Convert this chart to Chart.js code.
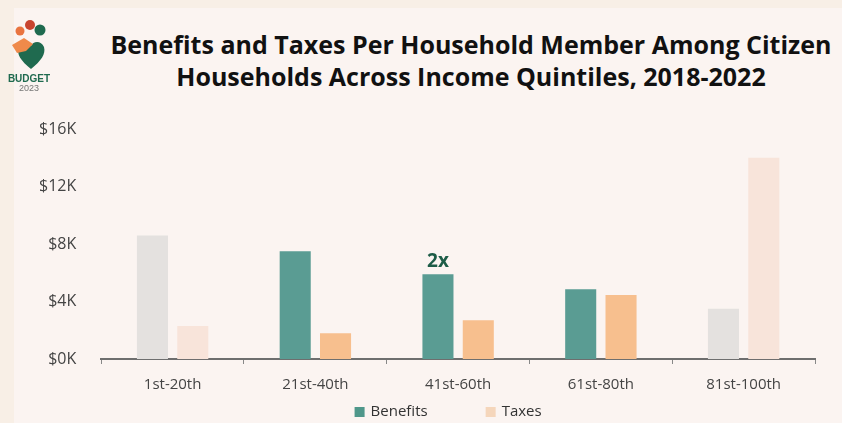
<!DOCTYPE html>
<html>
<head>
<meta charset="utf-8">
<script src="https://cdn.jsdelivr.net/npm/chart.js@4.4.0/dist/chart.umd.min.js"></script>
<style>
  html, body { margin: 0; padding: 0; }
  body { width: 842px; height: 423px; background: #f8efe6; position: relative; overflow: hidden; }
  #panel { position: absolute; left: 14px; top: 8px; right: 0; bottom: 0; background: #fbf4f1; }
  #title { position: absolute; left: 100px; width: 742px; top: 28px; text-align: center;
    font-family: "Open Sans", sans-serif; font-weight: 700; font-size: 25px; line-height: 32px;
    color: #111; letter-spacing: 0px; }
  #chart { position: absolute; left: 0; top: 0; }
</style>
</head>
<body>
<div id="panel"></div>
<div id="title">Benefits and Taxes Per Household Member Among Citizen<br>Households Across Income Quintiles, 2018-2022</div>
<canvas id="chart" width="842" height="423"></canvas>
<script>
const quintiles = ['1st-20th', '21st-40th', '41st-60th', '61st-80th', '81st-100th']
const benefits = [8600, 7500, 5900, 4850, 3500]
const taxes = [2300, 1800, 2700, 4450, 14000]
const yTicks = [0, 4000, 8000, 12000, 16000]

// highlighted quintiles in the middle, faded at both ends
const benefitColors = ['#e4e1df', '#5a9c93', '#5a9c93', '#5a9c93', '#e4e1df']
const taxColors = ['#f8e4da', '#f7bf8e', '#f7bf8e', '#f7bf8e', '#f8e4da']
const legendColors = ['#4f978a', '#f5d6bb']

const logoPlugin = {
    id: 'logo',
    afterDraw(chart) {
        const ctx = chart.ctx
        ctx.save()
        ctx.fillStyle = '#e9743f'
        ctx.beginPath(); ctx.arc(20, 31, 4.5, 0, Math.PI * 2); ctx.fill()
        ctx.fillStyle = '#c8442f'
        ctx.beginPath(); ctx.arc(30, 25, 5, 0, Math.PI * 2); ctx.fill()
        ctx.fillStyle = '#1f6a4f'
        ctx.beginPath(); ctx.arc(40, 30, 5.5, 0, Math.PI * 2); ctx.fill()
        // heart
        ctx.fillStyle = '#1f6a4f'
        ctx.beginPath()
        ctx.moveTo(31, 69)
        ctx.bezierCurveTo(21, 61, 16, 54, 19, 47)
        ctx.bezierCurveTo(22, 40, 30, 41, 31, 46)
        ctx.bezierCurveTo(33, 41, 41, 40, 44, 47)
        ctx.bezierCurveTo(46, 54, 41, 61, 31, 69)
        ctx.fill()
        ctx.fillStyle = '#ef8a4a'
        ctx.beginPath()
        ctx.moveTo(12, 45); ctx.lineTo(24, 38); ctx.lineTo(33, 44); ctx.lineTo(26, 51); ctx.lineTo(17, 53)
        ctx.closePath(); ctx.fill()
        ctx.fillStyle = '#1f6a4f'
        ctx.font = 'bold 10px "Liberation Sans", sans-serif'
        ctx.textAlign = 'center'
        ctx.textBaseline = 'middle'
        ctx.fillText('BUDGET', 29, 79)
        ctx.fillStyle = '#777'
        ctx.font = '9px "Liberation Sans", sans-serif'
        ctx.fillText('2023', 29, 89)
        ctx.restore()
    }
}

const notePlugin = {
    id: 'note',
    afterDatasetsDraw(chart) {
        const bar = chart.getDatasetMeta(0).data[2]
        const ctx = chart.ctx
        ctx.save()
        ctx.fillStyle = '#1d5c47'
        ctx.font = 'bold 19px "Open Sans", sans-serif'
        ctx.textAlign = 'center'
        ctx.textBaseline = 'alphabetic'
        ctx.fillText('2x', bar.x, bar.y - 7)
        ctx.restore()
    }
}

// legend drawn by hand so the gap between the two items can be wide
const legendPlugin = {
    id: 'wideLegend',
    afterDraw(chart) {
        const ctx = chart.ctx
        const area = chart.chartArea
        ctx.save()
        ctx.font = '15px "Open Sans", sans-serif'
        ctx.textBaseline = 'middle'
        const box = 10, textGap = 6, itemGap = 58
        const labels = chart.data.datasets.map(d => d.label)
        let total = 0
        labels.forEach((t, i) => {
            total += box + textGap + ctx.measureText(t).width
            if (i > 0) total += itemGap
        })
        let x = (area.left + area.right) / 2 - total / 2 - 10
        const y = 412
        labels.forEach((t, i) => {
            ctx.fillStyle = legendColors[i]
            ctx.fillRect(x, y - box / 2, box, box)
            x += box + textGap
            ctx.fillStyle = '#333'
            ctx.fillText(t, x, y)
            x += ctx.measureText(t).width + itemGap
        })
        ctx.restore()
    }
}

const chartData = {
    labels: quintiles,
    datasets: [{
        label: 'Benefits',
        data: benefits,
        backgroundColor: benefitColors,
        barPercentage: 0.77,
        categoryPercentage: 0.565,
    }, {
        label: 'Taxes',
        data: taxes,
        backgroundColor: taxColors,
        barPercentage: 0.77,
        categoryPercentage: 0.565,
    }]
}

const chartConfig = {
    type: 'bar',
    data: chartData,
    options: {
        responsive: false,
        animation: false,
        layout: { padding: { top: 129, left: 22, right: 27, bottom: 17 } },
        plugins: {
            tooltip: { enabled: false },
            legend: { display: false }
        },
        scales: {
            x: {
                grid: { display: true, drawOnChartArea: false, offset: true, tickLength: 5, color: '#888', lineWidth: 1 },
                border: { display: true, color: '#6e6e6e', width: 2 },
                ticks: { color: '#444', padding: 12, font: { family: '"Open Sans", sans-serif', size: 15 } }
            },
            y: {
                min: 0,
                max: 16000,
                afterBuildTicks(axis) { axis.ticks = yTicks.map(v => ({ value: v })) },
                grid: { display: false },
                border: { display: false },
                ticks: {
                    color: '#444',
                    padding: 17,
                    font: { family: '"Open Sans", sans-serif', size: 16 },
                    callback: v => '$' + (v / 1000) + 'K'
                }
            }
        }
    },
    plugins: [logoPlugin, notePlugin, legendPlugin]
}

const budgetChart = new Chart(document.getElementById('chart'), chartConfig)
</script>
</body>
</html>
